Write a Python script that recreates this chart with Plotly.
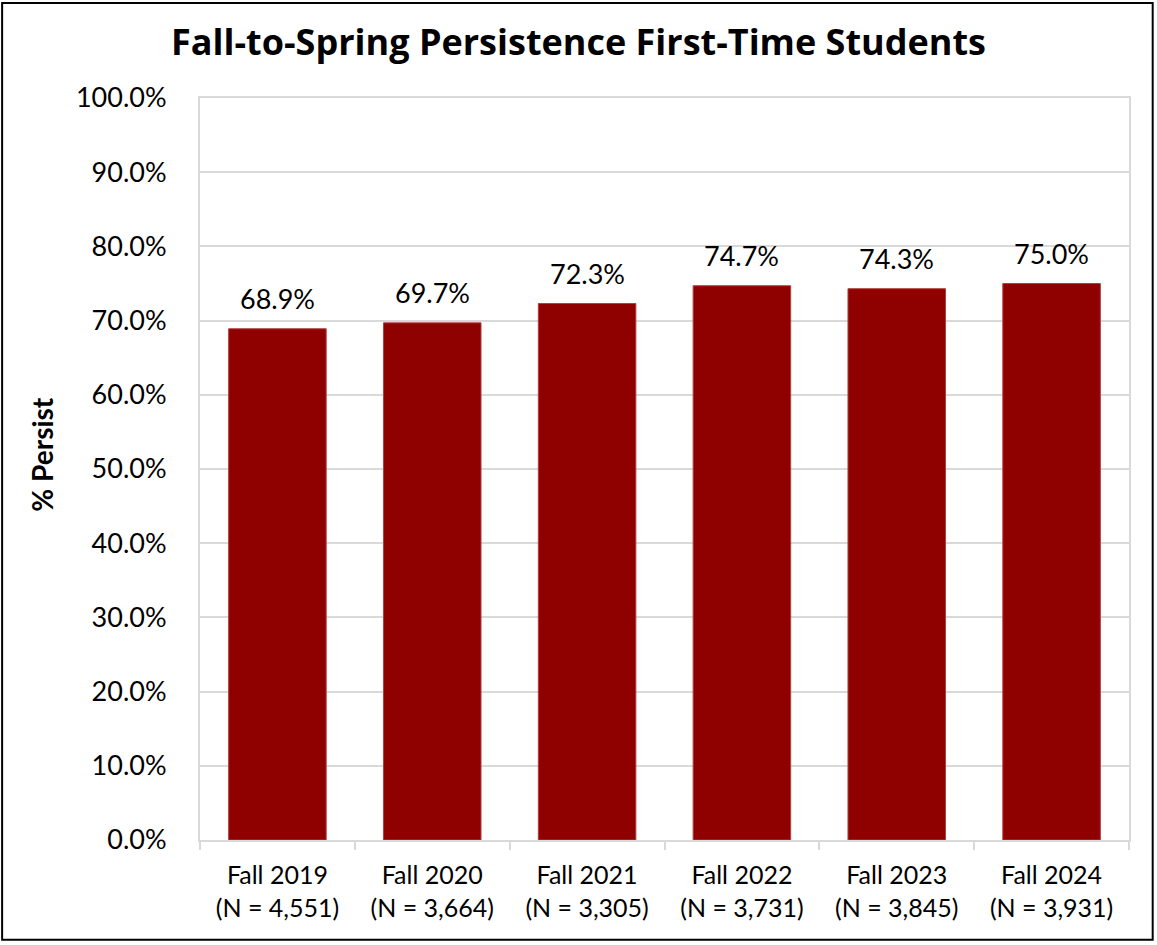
import plotly.graph_objects as go

terms = ["Fall 2019", "Fall 2020", "Fall 2021", "Fall 2022", "Fall 2023", "Fall 2024"]
headcounts = ["4,551", "3,664", "3,305", "3,731", "3,845", "3,931"]
persist = [0.689, 0.697, 0.723, 0.747, 0.743, 0.750]

labels = [f"{t}<br>(N = {n})" for t, n in zip(terms, headcounts)]

FONT = "Lato"

fig = go.Figure()

fig.add_trace(
    go.Bar(
        x=labels,
        y=persist,
        marker_color="#8F0000",
        marker_line_color="#B04040",
        marker_line_width=1,
        hoverinfo="skip",
    )
)

# value labels sitting a little above each bar
for lab, val in zip(labels, persist):
    fig.add_annotation(
        x=lab,
        y=val,
        text=f"{val:.1%}",
        showarrow=False,
        yanchor="bottom",
        yshift=12,
        font=dict(family=FONT, size=27, color="black"),
    )

fig.update_layout(
    width=1157,
    height=945,
    margin=dict(l=200, r=28, t=98, b=105),
    paper_bgcolor="white",
    plot_bgcolor="white",
    showlegend=False,
    bargap=0.37,
    font=dict(family=FONT, color="black"),
    title=dict(
        text="<b>Fall-to-Spring Persistence First-Time Students</b>",
        x=0.5,
        xanchor="center",
        y=0.955,
        yanchor="middle",
        font=dict(family="Open Sans", size=36, color="black"),
    ),
)

fig.update_yaxes(
    range=[0, 1],
    dtick=0.1,
    tickformat=".1%",
    tickfont=dict(family=FONT, size=27),
    showgrid=True,
    gridcolor="#D9D9D9",
    gridwidth=2,
    showline=True,
    linecolor="#D9D9D9",
    linewidth=2,
    mirror=True,
    ticks="",
    ticklabelstandoff=26,
    zeroline=False,
)

fig.update_xaxes(
    tickson="boundaries",
    ticks="outside",
    ticklen=8,
    tickwidth=2,
    tickcolor="#D9D9D9",
    tickfont=dict(family=FONT, size=25),
    ticklabelstandoff=12,
    showgrid=False,
    showline=True,
    linecolor="#D9D9D9",
    linewidth=2,
    mirror=True,
)

fig.add_annotation(
    text="<b>% Persist</b>",
    xref="paper",
    yref="paper",
    x=-0.19,
    y=0.52,
    textangle=-90,
    showarrow=False,
    font=dict(family=FONT, size=28, color="black"),
)

# outer frame around the whole chart
fig.add_shape(
    type="rect",
    xref="paper",
    yref="paper",
    x0=-0.213,
    x1=1.0255,
    y0=-0.1345,
    y1=1.128,
    line=dict(color="black", width=2),
    layer="below",
)

fig.write_html(
    "out.html",
    config={"displayModeBar": False},
    post_script="document.body.style.margin='0px';",
)
